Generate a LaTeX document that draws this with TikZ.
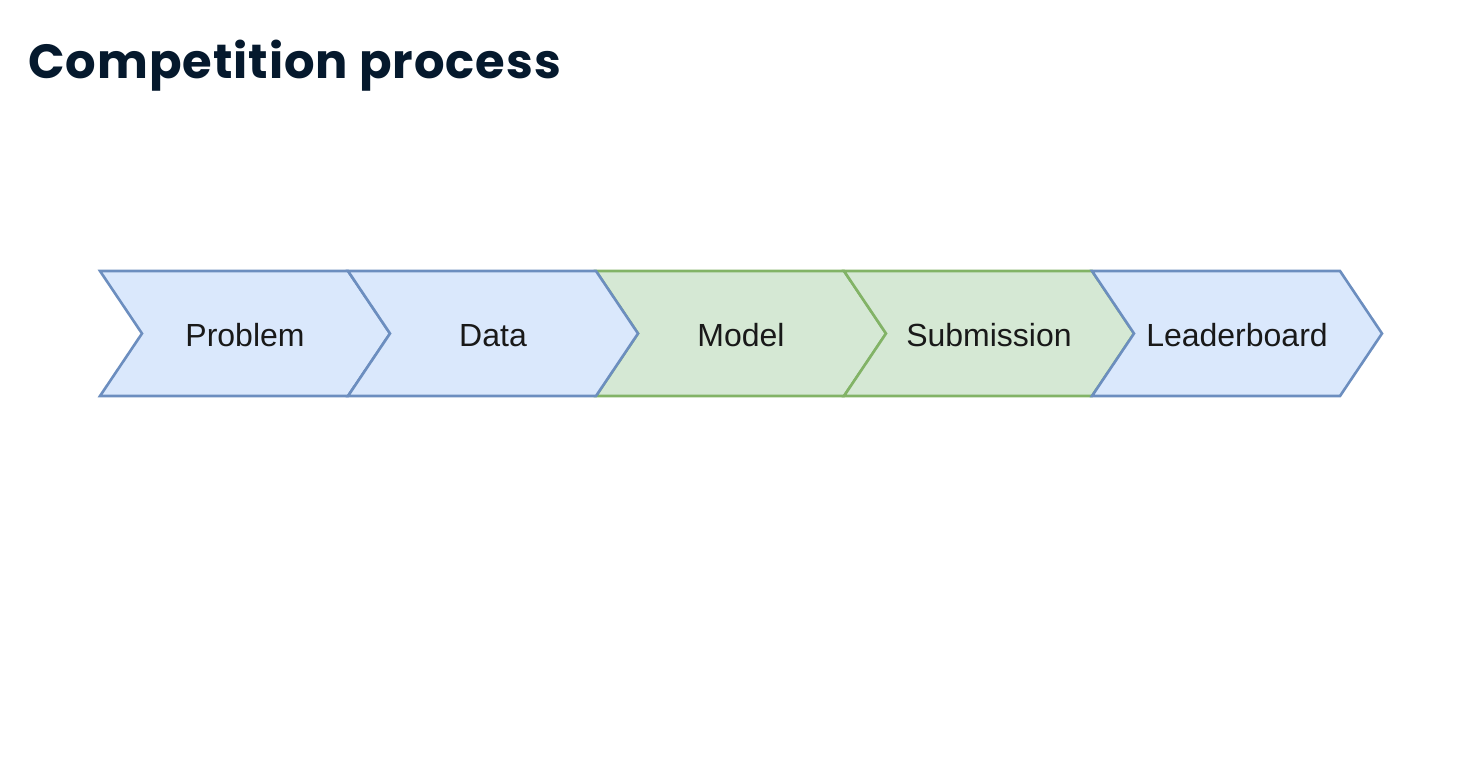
\documentclass[tikz,border=0pt]{standalone}
\usepackage{fontspec}
\setmainfont{Liberation Sans}
\newfontfamily\titlefont{Poppins}[LetterSpace=2]
\definecolor{titlenavy}{HTML}{05192D}
\definecolor{blueline}{HTML}{6C8EBF}
\definecolor{bluefill}{HTML}{DAE8FC}
\definecolor{greenline}{HTML}{82B366}
\definecolor{greenfill}{HTML}{D5E8D4}

\begin{document}
\begin{tikzpicture}[x=1pt,y=-1pt,
    chevron/.style={draw=#1line, fill=#1fill, line width=2.6pt, line join=miter},
    steplabel/.style={font=\fontsize{32}{38}\selectfont, text=black!90, anchor=base},
    heading/.style={font=\titlefont\bfseries\fontsize{48}{56}\selectfont, text=titlenavy, anchor=base west, inner sep=0pt}]
  \useasboundingbox (0,0) rectangle (1480,760);

  \node[heading] (title) at (28,78) {Competition process};

  % green steps first, so the blue outlines sit on top
  \foreach \i/\name/\txt/\col in {2/model/Model/green, 3/submission/Submission/green,
      0/problem/Problem/blue, 1/data/Data/blue, 4/leaderboard/Leaderboard/blue} {
    \draw[chevron=\col] ({100+248*\i},271) -- ++(248,0) -- ++(42,62.5) -- ++(-42,62.5)
      -- ++(-248,0) -- ++(42,-62.5) -- cycle;
    \node[steplabel] (\name) at ({245+248*\i},346) {\txt};
  }
\end{tikzpicture}
\end{document}
